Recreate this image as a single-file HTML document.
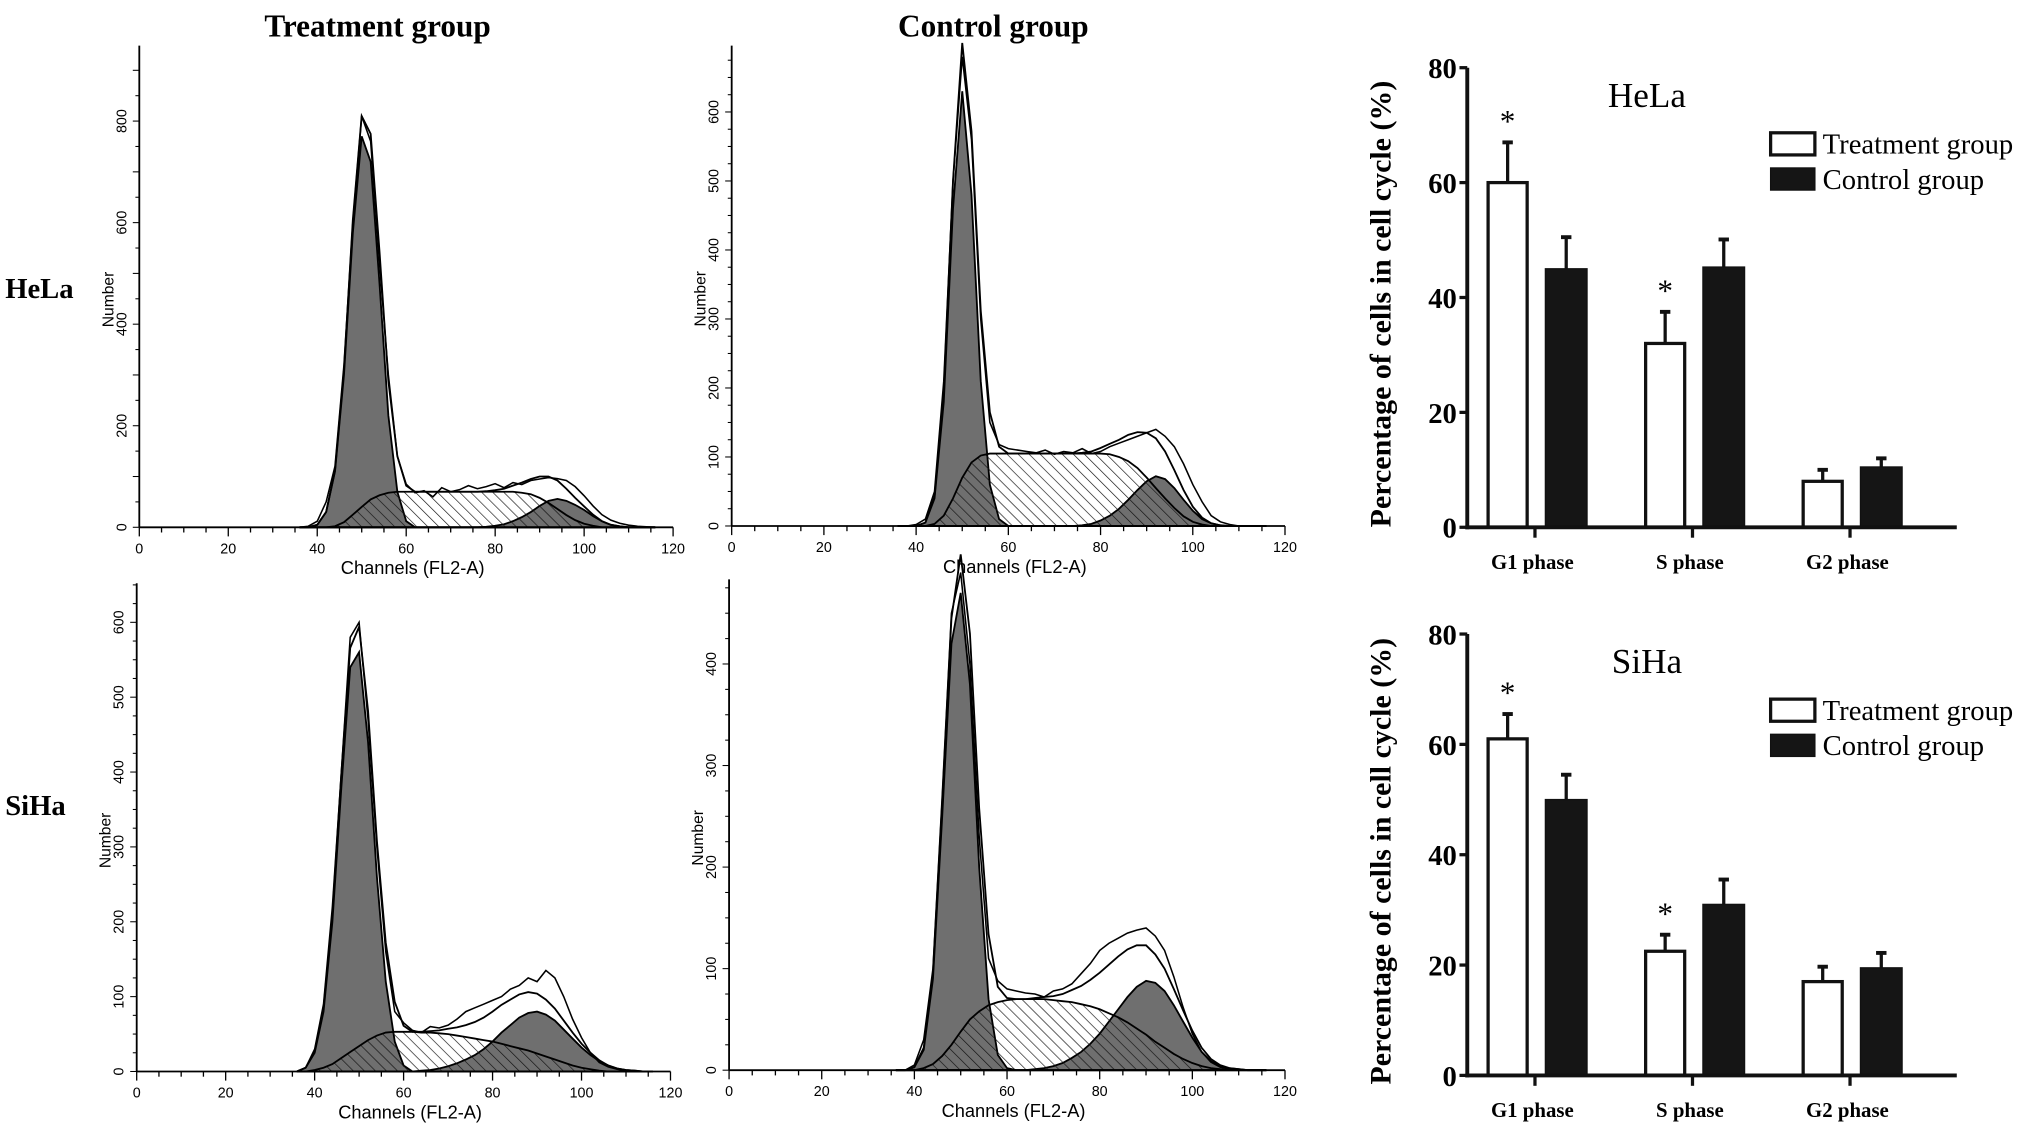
<!DOCTYPE html>
<html><head><meta charset="utf-8"><style>
html,body{margin:0;padding:0;background:#fff}
svg{display:block}
</style></head><body>
<svg id="fig" xmlns="http://www.w3.org/2000/svg" width="2031" height="1147" viewBox="0 0 1560 881" preserveAspectRatio="none">
<defs>
<pattern id="hatch" patternUnits="userSpaceOnUse" width="6" height="6" patternTransform="rotate(-45)">
<line x1="0" y1="0" x2="0" y2="6" stroke="#111" stroke-width="1"/>
</pattern>
</defs>
<rect width="1560" height="881" fill="#fff"/>
<g font-family="Liberation Serif, serif" font-weight="bold" fill="#000">
<text x="290" y="28" font-size="24" text-anchor="middle">Treatment group</text>
<text x="763" y="28" font-size="24" text-anchor="middle">Control group</text>
<text x="4" y="229" font-size="22">HeLa</text>
<text x="4" y="626" font-size="22">SiHa</text>
</g>
<g id="hists"></g>
<g id="bars"></g>
</svg>
<script>
const NS='http://www.w3.org/2000/svg';
const channels=[36,38,40,42,44,46,48,50,52,54,56,58,60,62,64,66,68,70,72,74,76,78,80,82,84,86,88,90,92,94,96,98,100,102,104,106,108,110,112,114,116];
// HeLa treatment
const helaTreatG1=[0,0,5,30,110,300,580,770,720,480,220,70,12,0,0,0,0,0,0,0,0,0,0,0,0,0,0,0,0,0,0,0,0,0,0,0,0,0,0,0,0];
const helaTreatS=[0,0,0,0,2,10,25,40,55,63,68,70,70,70,70,70,70,70,70,70,70,70,70,70,70,68,65,58,48,36,24,14,7,3,0,0,0,0,0,0,0];
const helaTreatG2=[0,0,0,0,0,0,0,0,0,0,0,0,0,0,0,0,0,0,0,0,0,1,3,6,12,20,30,42,52,56,52,44,34,22,12,5,2,0,0,0,0];
const helaTreatRaw=[0,2,12,50,120,320,600,810,760,520,300,140,85,68,72,60,78,70,74,82,76,80,86,78,88,84,92,95,98,96,92,80,62,42,25,14,8,4,2,1,0];
// HeLa control
const helaCtrlG1=[0,0,0,5,40,180,460,630,480,210,60,10,0,0,0,0,0,0,0,0,0,0,0,0,0,0,0,0,0,0,0,0,0,0,0,0,0,0,0,0,0];
const helaCtrlS=[0,0,0,0,3,15,40,70,92,102,105,105,105,105,105,105,105,105,105,105,105,105,105,104,100,94,84,70,55,40,26,14,6,2,0,0,0,0,0,0,0];
const helaCtrlG2=[0,0,0,0,0,0,0,0,0,0,0,0,0,0,0,0,0,0,0,0,1,3,8,15,25,38,52,65,72,68,55,38,22,10,4,1,0,0,0,0,0];
const helaCtrlRaw=[0,0,2,10,50,210,500,680,560,300,150,118,112,110,108,106,110,104,108,106,112,105,108,115,120,125,130,135,140,130,115,90,60,35,15,6,2,0,0,0,0];
// SiHa treatment
const sihaTreatG1=[0,5,25,80,200,380,540,560,440,260,120,40,8,0,0,0,0,0,0,0,0,0,0,0,0,0,0,0,0,0,0,0,0,0,0,0,0,0,0,0,0];
const sihaTreatS=[0,0,2,5,10,18,26,34,42,48,52,53,53,53,52,52,51,50,48,46,44,42,40,37,34,31,28,24,20,16,12,8,5,3,1,0,0,0,0,0,0];
const sihaTreatG2=[0,0,0,0,0,0,0,0,0,0,0,0,0,0,1,2,4,7,11,16,22,30,40,52,62,72,78,80,76,68,56,44,32,22,14,8,4,2,1,0,0];
const sihaTreatRaw=[0,5,30,90,220,400,580,600,470,300,160,80,65,55,52,60,58,62,70,80,85,90,95,100,110,115,125,120,135,125,100,70,45,25,12,6,3,1,0,0,0];
// SiHa control
const sihaCtrlG1=[0,0,3,20,90,250,420,470,380,200,70,15,2,0,0,0,0,0,0,0,0,0,0,0,0,0,0,0,0,0,0,0,0,0,0,0,0,0,0,0,0];
const sihaCtrlS=[0,0,0,2,6,14,25,38,50,58,64,67,69,70,70,70,70,69,68,67,65,63,60,56,52,47,41,35,28,22,16,11,7,4,2,1,0,0,0,0,0];
const sihaCtrlG2=[0,0,0,0,0,0,0,0,0,0,0,0,0,0,0,1,2,4,7,12,18,26,36,48,60,72,82,88,86,78,64,48,32,18,9,4,2,1,0,0,0];
const sihaCtrlRaw=[0,0,5,30,100,270,450,490,400,230,110,88,80,78,76,75,72,78,80,85,95,105,118,125,130,135,138,140,132,118,92,62,36,18,8,3,1,0,0,0,0];
// Y tick labels per panel
const ticksA=[0,200,400,600,800];
const ticksB=[0,100,200,300,400,500,600];
const ticksC=[0,100,200,300,400,500,600];
const ticksD=[0,100,200,300,400];
const xTicks=[0,20,40,60,80,100,120];

// Bar chart data
const phases=['G1 phase','S phase','G2 phase'];
const helaTreatPct=[60,32,8];
const helaTreatErr=[7,5.5,2];
const helaCtrlPct=[45,45.3,10.5];
const helaCtrlErr=[5.5,4.8,1.5];
const helaStars=[true,true,false];
const sihaTreatPct=[61,22.5,17];
const sihaTreatErr=[4.5,3,2.7];
const sihaCtrlPct=[50,31,19.5];
const sihaCtrlErr=[4.5,4.5,2.7];
const sihaStars=[true,true,false];
const pctTicks=[0,20,40,60,80];

function el(tag,attrs,parent){const e=document.createElementNS(NS,tag);for(const k in attrs)e.setAttribute(k,attrs[k]);if(parent)parent.appendChild(e);return e;}

function hist(name,ox,oy,xr,pxPer,topY,ticks,tickStep,g1,s,g2,raw){
  const root=document.getElementById('hists');
  const g=el('g',{},root);
  
  
  const X=c=>ox+(c/120)*(xr-ox);
  const Y=v=>oy-v*pxPer;
  const path=arr=>{let d='';channels.forEach((c,i)=>{d+=(i?'L':'M')+X(c).toFixed(1)+','+Y(arr[i]).toFixed(1);});return d;};
  const area=arr=>path(arr)+'L'+X(channels[channels.length-1])+','+oy+'L'+X(channels[0])+','+oy+'Z';
  const fit=channels.map((c,i)=>g1[i]+s[i]+g2[i]);
  const sA=el('path',{d:area(s),fill:'#fff',stroke:'none'},g);
  
  
  const g1A=el('path',{d:area(g1),fill:'#6f6f6f',stroke:'#000','stroke-width':1.4},g);
  
  
  const g2A=el('path',{d:area(g2),fill:'#6f6f6f',stroke:'#000','stroke-width':1.4},g);
  
  
  const sH=el('path',{d:area(s),fill:'url(#hatch)',stroke:'#000','stroke-width':1.4},g);
  
  
  const fl=el('path',{d:path(fit),fill:'none',stroke:'#000','stroke-width':1.4},g);
  
  
  const rl=el('path',{d:path(raw),fill:'none',stroke:'#000','stroke-width':1.2},g);
  
  
  el('line',{x1:ox,y1:topY,x2:ox,y2:oy,stroke:'#000','stroke-width':1.4},g);
  el('line',{x1:ox,y1:oy,x2:xr,y2:oy,stroke:'#000','stroke-width':1.4},g);
  for(let c=0;c<=120;c+=5){el('line',{x1:X(c),y1:oy,x2:X(c),y2:oy+(c%20===0?7:4),stroke:'#000','stroke-width':1},g);}
  xTicks.forEach(t=>{const tx=el('text',{x:X(t),y:oy+20,'font-size':11,'text-anchor':'middle','font-family':'Liberation Sans, sans-serif'},g);tx.textContent=t;});
  const maxV=(oy-topY)/pxPer;
  for(let v=0;v<=maxV;v+=tickStep){el('line',{x1:ox-(v%100===0?5:3),y1:Y(v),x2:ox,y2:Y(v),stroke:'#000','stroke-width':0.8},g);}
  ticks.forEach(t=>{const tx=el('text',{x:ox-10,y:Y(t),'font-size':11,'text-anchor':'middle','font-family':'Liberation Sans, sans-serif',transform:`rotate(-90 ${ox-10} ${Y(t)})`},g);tx.textContent=t;});
  const yl=el('text',{x:ox-20,y:(oy+topY)/2+10,'font-size':12,'text-anchor':'middle','font-family':'Liberation Sans, sans-serif',transform:`rotate(-90 ${ox-20} ${(oy+topY)/2+10})`},g);
  yl.textContent='Number';
  
  
  const xl=el('text',{x:(ox+xr)/2+5,y:oy+36,'font-size':14,'text-anchor':'middle','font-family':'Liberation Sans, sans-serif'},g);
  xl.textContent='Channels  (FL2-A)';
  
  
}
hist('hela-treatment-histogram',107,405,517,0.39,35,ticksA,50,helaTreatG1,helaTreatS,helaTreatG2,helaTreatRaw);
hist('hela-control-histogram',562,404,987,0.53,35,ticksB,25,helaCtrlG1,helaCtrlS,helaCtrlG2,helaCtrlRaw);
hist('siha-treatment-histogram',105,823,515,0.575,448,ticksC,25,sihaTreatG1,sihaTreatS,sihaTreatG2,sihaTreatRaw);
hist('siha-control-histogram',560,822,987,0.78,445,ticksD,25,sihaCtrlG1,sihaCtrlS,sihaCtrlG2,sihaCtrlRaw);

function barChart(name,title,ax,oy,topY,xEnd,tp,te,cp,ce,stars){
  const root=document.getElementById('bars');
  const g=el('g',{'font-family':'Liberation Serif, serif'},root);
  
  
  const Y=v=>oy-(v/80)*(oy-topY);
  const centers=[1179,1300,1421];
  phases.forEach((p,i)=>{
    const c=centers[i];
    el('line',{x1:c-21,y1:Y(tp[i]),x2:c-21,y2:Y(tp[i]+te[i]),stroke:'#111','stroke-width':2.5},g);
    el('line',{x1:c-25,y1:Y(tp[i]+te[i]),x2:c-17,y2:Y(tp[i]+te[i]),stroke:'#111','stroke-width':3},g);
    const b1=el('rect',{x:c-36,y:Y(tp[i]),width:30,height:oy-Y(tp[i]),fill:'#fff',stroke:'#111','stroke-width':2.5},g);
    
    
    el('line',{x1:c+24,y1:Y(cp[i]),x2:c+24,y2:Y(cp[i]+ce[i]),stroke:'#111','stroke-width':2.5},g);
    el('line',{x1:c+20,y1:Y(cp[i]+ce[i]),x2:c+28,y2:Y(cp[i]+ce[i]),stroke:'#111','stroke-width':3},g);
    const b2=el('rect',{x:c+8,y:Y(cp[i]),width:32,height:oy-Y(cp[i]),fill:'#151515',stroke:'#111','stroke-width':1},g);
    
    
    if(stars[i]){const st=el('text',{x:c-21,y:Y(tp[i]+te[i])-8,'font-size':24,'text-anchor':'middle'},g);st.textContent='*';
      
      }
    el('line',{x1:c,y1:oy,x2:c,y2:oy+8,stroke:'#111','stroke-width':2.5},g);
    const lb=el('text',{x:c-2,y:oy+32,'font-size':16,'font-weight':'bold','text-anchor':'middle'},g);lb.textContent=p;
    
    
  });
  el('line',{x1:ax,y1:topY,x2:ax,y2:oy+1.5,stroke:'#111','stroke-width':3},g);
  el('line',{x1:ax-1.5,y1:oy,x2:xEnd,y2:oy,stroke:'#111','stroke-width':3},g);
  pctTicks.forEach(t=>{el('line',{x1:ax-6,y1:Y(t),x2:ax,y2:Y(t),stroke:'#111','stroke-width':2.5},g);
    const tx=el('text',{x:ax-8,y:Y(t)+8,'font-size':22,'font-weight':'bold','text-anchor':'end'},g);tx.textContent=t;});
  const yc=(oy+topY)/2+5;
  const yl=el('text',{x:1068,y:yc,'font-size':23,'font-weight':'bold','text-anchor':'middle',transform:`rotate(-90 1068 ${yc})`},g);
  yl.textContent='Percentage of cells in cell cycle (%)';
  
  
  const tt=el('text',{x:1265,y:topY+30,'font-size':27,'text-anchor':'middle'},g);tt.textContent=title;
  
  
  const ly=topY+50;
  const l1=el('g',{},g);
  
  
  el('rect',{x:1360,y:ly,width:34,height:17,fill:'#fff',stroke:'#111','stroke-width':2.5},l1);
  const t1=el('text',{x:1400,y:ly+16,'font-size':22},l1);t1.textContent='Treatment group';
  const l2=el('g',{},g);
  
  
  el('rect',{x:1360,y:ly+27,width:34,height:17,fill:'#151515',stroke:'#111','stroke-width':1},l2);
  const t2=el('text',{x:1400,y:ly+43,'font-size':22},l2);t2.textContent='Control group';
}
barChart('hela-bar-chart','HeLa',1127,405,52,1503,helaTreatPct,helaTreatErr,helaCtrlPct,helaCtrlErr,helaStars);
barChart('siha-bar-chart','SiHa',1127,826,487,1503,sihaTreatPct,sihaTreatErr,sihaCtrlPct,sihaCtrlErr,sihaStars);
</script>
</body></html>
